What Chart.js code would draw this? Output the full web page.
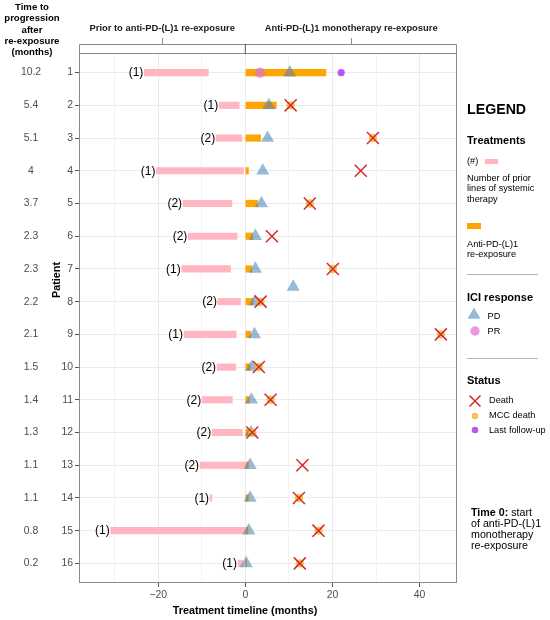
<!DOCTYPE html>
<html><head><meta charset="utf-8">
<script src="https://cdn.jsdelivr.net/npm/chart.js@4.4.1/dist/chart.umd.min.js"></script>
<style>
html,body{margin:0;padding:0;background:#fff;}
#wrap{position:relative;width:550px;height:620px;font-family:"Liberation Sans",Arial,sans-serif;color:#000;overflow:hidden;}
canvas{position:absolute;left:0;top:0;}
.t{position:absolute;white-space:nowrap;line-height:1;}
.b{font-weight:bold;}
.sep{position:absolute;left:467px;width:71px;height:0;border-top:1px solid #b3b3b3;}
</style></head><body>
<div id="wrap">
<canvas id="c" width="550" height="620"></canvas>

<div class="t b" style="left:0;width:64px;top:1px;text-align:center;font-size:9.6px;line-height:11.25px;">Time to<br>progression<br>after<br>re-exposure<br>(months)</div>

<div class="t b" style="left:145px;width:200px;top:604.5px;text-align:center;font-size:10.8px;">Treatment timeline (months)</div>

<div class="t b" style="left:467px;top:101.5px;font-size:14.2px;">LEGEND</div>
<div class="t b" style="left:467px;top:135px;font-size:11px;">Treatments</div>
<div class="t" style="left:467px;top:156.5px;font-size:9.2px;">(#)</div>
<div style="position:absolute;left:485px;top:158.5px;width:13px;height:5px;background:#FFB6C1;"></div>
<div class="t" style="left:467px;top:172.5px;font-size:9.2px;line-height:10.9px;">Number of prior<br>lines of systemic<br>therapy</div>
<div style="position:absolute;left:467px;top:222.5px;width:14px;height:6px;background:#FFA500;"></div>
<div class="t" style="left:467px;top:240px;font-size:9.2px;line-height:9.8px;">Anti-PD-(L)1<br>re-exposure</div>
<div class="sep" style="top:273.5px;"></div>
<div class="t b" style="left:467px;top:291.5px;font-size:11px;">ICI response</div>
<svg style="position:absolute;left:462px;top:304px;" width="24" height="24"><polygon points="12,3.5 18.5,14.7 5.5,14.7" fill="rgba(70,130,180,0.55)"/></svg>
<div class="t" style="left:487.5px;top:311.5px;font-size:9.2px;">PD</div>
<svg style="position:absolute;left:463px;top:319px;" width="24" height="24"><circle cx="12" cy="12" r="4.7" fill="rgba(218,112,214,0.7)"/></svg>
<div class="t" style="left:487.5px;top:326.5px;font-size:9.2px;">PR</div>
<div class="sep" style="top:357.8px;"></div>
<div class="t b" style="left:467px;top:375px;font-size:11px;">Status</div>
<svg style="position:absolute;left:463px;top:388.5px;" width="24" height="24"><path d="M6.5,6.5 L17.5,17.5 M17.5,6.5 L6.5,17.5" stroke="#d42a2a" stroke-width="1.5"/></svg>
<div class="t" style="left:489px;top:396px;font-size:9.2px;">Death</div>
<svg style="position:absolute;left:462.5px;top:403.5px;" width="24" height="24"><circle cx="12" cy="12" r="3.3" fill="rgba(240,180,40,0.8)"/></svg>
<div class="t" style="left:489px;top:411px;font-size:9.2px;">MCC death</div>
<svg style="position:absolute;left:462.5px;top:418px;" width="24" height="24"><circle cx="12" cy="12" r="3.3" fill="rgba(160,32,240,0.75)"/></svg>
<div class="t" style="left:489px;top:425.5px;font-size:9.2px;">Last follow-up</div>

<div class="t" style="left:471px;top:506.5px;font-size:10.7px;line-height:11px;"><b>Time 0:</b> start<br>of anti-PD-(L)1<br>monotherapy<br>re-exposure</div>
</div>
<script>
// ---- data ----
const patients = [1,2,3,4,5,6,7,8,9,10,11,12,13,14,15,16];
const ttpLabels = ["10.2","5.4","5.1","4","3.7","2.3","2.3","2.2","2.1","1.5","1.4","1.3","1.1","1.1","0.8","0.2"];
const ttp = ttpLabels.map(Number);
const priorLines = [1,1,2,1,2,2,1,2,1,2,2,2,2,1,1,1];
const priorStart = [-23.2,-6.0,-6.7,-20.4,-14.3,-13.1,-14.6,-6.3,-14.1,-6.5,-9.9,-7.6,-10.4,-8.1,-30.9,-1.7];
const priorEnd   = [-8.5,-1.4,-0.8,-0.4,-3.1,-1.9,-3.4,-1.1,-2.1,-2.2,-3.0,-0.7,0,-7.7,0,-0.6];
const reexpStart = [0,0,0,0,0,0,0,0,0,0,0,0,0,0,0,0];
const reexpEnd   = [18.5,7.1,3.5,0.7,2.8,1.7,1.5,1.8,1.2,1.1,0.9,1.0,0.7,0.7,0.6,0.3];
const deathTime  = [null,10.4,29.3,26.5,14.8,6.1,20.1,3.5,44.9,3.1,5.8,1.6,13.1,12.3,16.8,12.5];
const mccDeath   = [false,true,true,false,true,false,true,true,true,true,true,true,false,true,true,true];
const lastFollowUp = [22.0,null,null,null,null,null,null,null,null,null,null,null,null,null,null,null];
const prTime     = [3.4,null,null,null,null,null,null,null,null,null,null,null,null,null,null,null];
const extraPDTime = [11.0];
const extraPDRow  = [7.55];
const xGridValues = [-30,-20,-10,0,10,20,30,40];
const xMin = -38.2, xMax = 48.6;
const yMin = 0.4, yMax = 16.6;
const stripTitles = ["Prior to anti-PD-(L)1 re-exposure","Anti-PD-(L)1 monotherapy re-exposure"];

// ---- build datasets ----
const pinkData = patients.map((p,i)=>({x:[priorStart[i],priorEnd[i]], y:p}));
const orangeData = patients.map((p,i)=>({x:[reexpStart[i],reexpEnd[i]], y:p}));
const pdData = patients.map((p,i)=>({x:ttp[i], y:p})).concat(extraPDTime.map((t,i)=>({x:t,y:extraPDRow[i]})));
const prData = patients.map((p,i)=>prTime[i]==null?null:{x:prTime[i],y:p}).filter(Boolean);
const lfuData = patients.map((p,i)=>lastFollowUp[i]==null?null:{x:lastFollowUp[i],y:p}).filter(Boolean);
const deathData = patients.map((p,i)=>deathTime[i]==null?null:{x:deathTime[i],y:p}).filter(Boolean);
const mccData = patients.map((p,i)=>(deathTime[i]!=null && mccDeath[i])?{x:deathTime[i],y:p}:null).filter(Boolean);

const FONT = "'Liberation Sans', Arial, sans-serif";

const overlay = {
  id:'overlay',
  afterDatasetsDraw(chart){
    const ctx = chart.ctx, xs = chart.scales.x, ys = chart.scales.y;
    ctx.save();
    // (n) labels
    ctx.fillStyle = '#000';
    ctx.font = '12px ' + FONT;
    ctx.textAlign = 'right'; ctx.textBaseline = 'middle';
    patients.forEach((p,i)=>{
      ctx.fillText('(' + priorLines[i] + ')', xs.getPixelForValue(priorStart[i]) - 1, ys.getPixelForValue(p) + 0.5);
    });
    ctx.restore();
  },
  afterDraw(chart){
    const ctx = chart.ctx, xs = chart.scales.x, ys = chart.scales.y, a = chart.chartArea;
    ctx.save();
    // panel border
    ctx.strokeStyle = '#8a8a8a'; ctx.lineWidth = 1;
    ctx.strokeRect(a.left+0.5, a.top+0.5, a.right-a.left-1, a.bottom-a.top-1);
    // strip bracket
    const x0 = xs.getPixelForValue(0);
    const sTop = a.top - 9;
    ctx.beginPath();
    ctx.moveTo(a.left+0.5, a.top); ctx.lineTo(a.left+0.5, sTop+0.5); ctx.lineTo(a.right-0.5, sTop+0.5); ctx.lineTo(a.right-0.5, a.top);
    ctx.stroke();
    const c1 = (a.left + x0)/2, c2 = (x0 + a.right)/2;
    ctx.beginPath();
    ctx.moveTo(Math.round(c1)+0.5, sTop); ctx.lineTo(Math.round(c1)+0.5, sTop-6);
    ctx.moveTo(Math.round(c2)+0.5, sTop); ctx.lineTo(Math.round(c2)+0.5, sTop-6);
    ctx.stroke();
    ctx.strokeStyle = '#555';
    ctx.beginPath(); ctx.moveTo(x0, sTop); ctx.lineTo(x0, a.top+1); ctx.stroke();
    // strip titles
    ctx.fillStyle = '#1a1a1a';
    ctx.font = 'bold 9.4px ' + FONT;
    ctx.textAlign = 'center'; ctx.textBaseline = 'middle';
    ctx.fillText(stripTitles[0], c1, 28);
    ctx.fillText(stripTitles[1], c2, 28);
    // TTP column
    ctx.fillStyle = '#4d4d4d';
    ctx.font = '10.4px ' + FONT;
    patients.forEach((p,i)=>{ ctx.fillText(ttpLabels[i], 31, ys.getPixelForValue(p)); });
    // y title
    ctx.fillStyle = '#000';
    ctx.font = 'bold 10.8px ' + FONT;
    ctx.translate(57, 280); ctx.rotate(-Math.PI/2);
    ctx.fillText('Patient', 0, 0);
    ctx.restore();
  }
};

new Chart(document.getElementById('c'), {
  type: 'scatter',
  data: { datasets: [
    { label:'Death', data: deathData, pointStyle:'crossRot', radius:8.5, borderColor:'#d42a2a', borderWidth:1.5, backgroundColor:'#d42a2a', order:0 },
    { label:'MCC death', data: mccData, pointStyle:'circle', radius:4.2, backgroundColor:'rgba(240,180,40,0.8)', borderWidth:0, order:1 },
    { label:'PD', data: pdData, pointStyle:'triangle', radius:7.6, backgroundColor:'rgba(70,130,180,0.55)', borderWidth:0, order:2 },
    { label:'Last follow-up', data: lfuData, pointStyle:'circle', radius:3.6, backgroundColor:'rgba(160,32,240,0.75)', borderWidth:0, order:3 },
    { label:'PR', data: prData, pointStyle:'circle', radius:5.2, backgroundColor:'rgba(218,112,214,0.7)', borderWidth:0, order:4 },
    { type:'bar', label:'Anti-PD-(L)1 re-exposure', data: orangeData, indexAxis:'y', backgroundColor:'#FFA500', borderWidth:0, barThickness:6.5, grouped:false, order:5 },
    { type:'bar', label:'Prior lines', data: pinkData, indexAxis:'y', backgroundColor:'#FFB6C1', borderWidth:0, barThickness:6.5, grouped:false, order:6 }
  ]},
  options: {
    responsive:false, animation:false,
    layout:{ padding:{ left:0, top:53, right:93, bottom:0 } },
    plugins:{ legend:{display:false}, tooltip:{enabled:false} },
    elements:{ point:{ hoverRadius:0 } },
    scales:{
      x:{ type:'linear', position:'bottom', min:xMin, max:xMax, offset:false,
          afterBuildTicks:(s)=>{ s.ticks = xGridValues.map(v=>({value:v})); },
          afterFit:(s)=>{ s.height = 37; },
          ticks:{ autoSkip:false, maxRotation:0, padding:1.5, color:'#4d4d4d', font:{family:FONT, size:10.4},
                  callback:(v)=> (v % 20 === 0) ? (v < 0 ? '\u2212' + Math.abs(v) : String(v)) : '' },
          grid:{ offset:false, color:'#ebebeb', lineWidth:(c)=> (c.tick && c.tick.value % 20 === 0) ? 1 : 0.6,
                 tickLength:4, tickColor:(c)=> (c.tick && c.tick.value % 20 === 0) ? '#555' : 'rgba(0,0,0,0)' },
          border:{ display:false }
      },
      y:{ type:'linear', position:'left', min:yMin, max:yMax, reverse:true, offset:false,
          afterBuildTicks:(s)=>{ s.ticks = patients.map(v=>({value:v})); },
          afterFit:(s)=>{ s.width = 79; },
          ticks:{ autoSkip:false, padding:2, color:'#4d4d4d', font:{family:FONT, size:10.4} },
          grid:{ offset:false, color:'#ebebeb', lineWidth:1, tickLength:4, tickColor:'#555' },
          border:{ display:false }
      }
    }
  },
  plugins:[overlay]
});
</script>
</body></html>
